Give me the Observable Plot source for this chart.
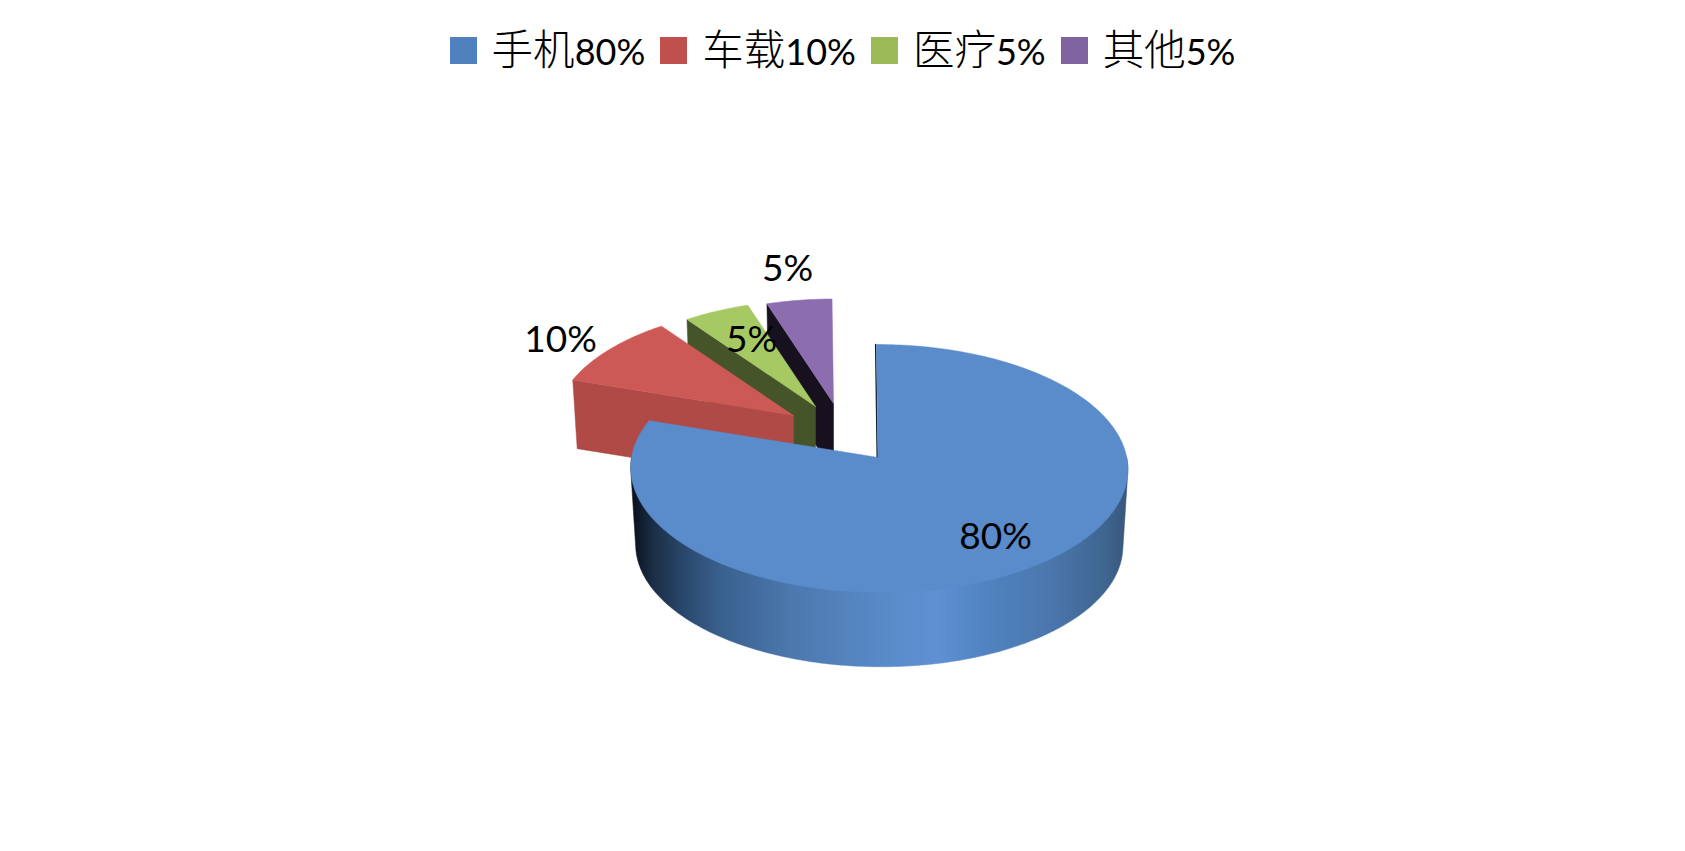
<!DOCTYPE html>
<html lang="zh">
<head>
<meta charset="utf-8">
<script src="https://cdn.jsdelivr.net/npm/d3@7"></script>
<script src="https://cdn.jsdelivr.net/npm/@observablehq/plot@0.6"></script>
<style>
html,body{margin:0;padding:0;background:#fff;overflow:hidden}
#legend{height:100px;display:flex;justify-content:center;align-items:flex-start;gap:15px;box-sizing:border-box;font-family:Lato,sans-serif;color:#000}
.item{display:flex;align-items:center;gap:15px;height:50px;margin-top:25px;white-space:nowrap}
.sw{width:27px;height:27px;display:inline-block}
.lab{position:relative;top:-1px;font-size:36px;line-height:50px}
.cjk{font-family:"Noto Sans CJK SC",sans-serif;font-size:41.5px;font-weight:300}
</style>
</head>
<body>
<div id="legend"></div>
<div id="chart"></div>
<script>
// Data
const categories = ["手机", "车载", "医疗", "其他"];
const values = [80, 10, 5, 5];
const legendColors = ["#4F81BD", "#C0504D", "#9BBB59", "#8064A2"];

// Slice styling
const topColors = ["#5A8BCB", "#CD5957", "#A6C963", "#8C6DB0"];
const wallColors = ["#101B2A", "#B04A46", "#46542A", "#17111F"];

// Pie geometry: perspective ellipse, per-slice placement
const pieA = 247.6, pieB = 123, pieK = 0.0887, pieM = 0.0046, pieShear = 0.014, taper = 0.98;
const apexX = [877.5, 793, 815, 833];
const apexY = [457, 415, 406, 403];
const sliceScale = [1, 0.965, 0.94, 0.925];
const sliceDepth = [77, 68, 68, 68];
const labelX = [995, 560, 751, 787];
const labelY = [537, 340, 340, 269];

// Start angle of each slice: clockwise from 12 o'clock
const cum = d3.cumsum(values);
const total = cum[cum.length - 1];
const startDeg = values.map((v, i) => (i ? cum[i - 1] : 0) / total * 360);
const endDeg = cum.map(c => c / total * 360);

function pt(i, deg, bottom) {
  const r = deg * Math.PI / 180, u = Math.sin(r), v = -Math.cos(r), w = 1 - pieK * v - pieM * u;
  const Y = pieB * v / w, X = pieA * u / w + pieShear * Y, s = sliceScale[i];
  return bottom
    ? {x: apexX[i] + s * taper * X, y: apexY[i] + s * taper * Y + sliceDepth[i]}
    : {x: apexX[i] + s * X, y: apexY[i] + s * Y};
}
function apex(i, bottom) {
  return {x: apexX[i], y: apexY[i] + (bottom ? sliceDepth[i] : 0)};
}
function arc(i, a, b, bottom) {
  const n = Math.max(2, Math.ceil(Math.abs(b - a)));
  return d3.range(n + 1).map(j => pt(i, a + (b - a) * j / n, bottom));
}
const topFace = i => [apex(i), ...arc(i, startDeg[i], endDeg[i]), apex(i)];
// cut wall at the start of a slice, seen from the front
const cutWall = i => [apex(i), pt(i, startDeg[i]), pt(i, startDeg[i], true), apex(i, true), apex(i)];
const poly = (pts, fill) => Plot.line(pts, {x: "x", y: "y", fill, stroke: fill, strokeWidth: 0.5, curve: "linear"});

// front rim of the main slice: outline around its top and bottom edges
const hull = d3.polygonHull([...arc(0, 90, 270), ...arc(0, 90, 270, true)].map(p => [p.x, p.y]));
const rim = [...hull, hull[0]].map(([x, y]) => ({x, y}));

const gradStops = [[0,"#0A131F"],[0.04,"#1B2E46"],[0.11,"#2B4A70"],[0.18,"#3A618F"],[0.32,"#4B78AD"],[0.52,"#5A8BC9"],[0.62,"#5E90D3"],[0.72,"#5083C0"],[0.86,"#4A75AA"],[0.96,"#3F6590"],[1,"#38587F"]];
function defs() {
  const d = d3.create("svg:defs");
  const g = d.append("linearGradient").attr("id", "sideGrad").attr("gradientUnits", "userSpaceOnUse")
    .attr("x1", 633).attr("x2", 1124).attr("y1", 0).attr("y2", 0);
  gradStops.forEach(([o, c]) => g.append("stop").attr("offset", o).attr("stop-color", c));
  return d.node();
}

const order = [3, 2, 1]; // painted back to front
const plot = Plot.plot({
  width: 1685, height: 751,
  marginTop: 0, marginRight: 0, marginBottom: 0, marginLeft: 0,
  x: {domain: [0, 1685], range: [0, 1685], axis: null},
  y: {domain: [100, 851], range: [0, 751], axis: null},
  style: {background: "#fff", overflow: "visible"},
  marks: [
    defs,
    ...order.flatMap(i => [poly(cutWall(i), wallColors[i]), poly(topFace(i), topColors[i])]),
    poly(rim, "url(#sideGrad)"),
    Plot.line([pt(0, 0), apex(0)], {x: "x", y: "y", stroke: wallColors[0], strokeWidth: 1.4, dx: -0.8}),
    poly(topFace(0), topColors[0]),
    Plot.text(values.map((v, i) => ({x: labelX[i], y: labelY[i], t: v + "%"})), {
      x: "x", y: "y", text: "t", fontSize: 37, fontFamily: "Lato, sans-serif", fill: "#000"
    })
  ]
});
document.getElementById("chart").append(plot);

const legend = d3.select("#legend");
categories.forEach((c, i) => {
  const it = legend.append("div").attr("class", "item");
  it.append("span").attr("class", "sw").style("background", legendColors[i]);
  const lab = it.append("span").attr("class", "lab");
  lab.append("span").attr("class", "cjk").text(c);
  lab.append("span").text(values[i] + "%");
});
</script>
</body>
</html>
